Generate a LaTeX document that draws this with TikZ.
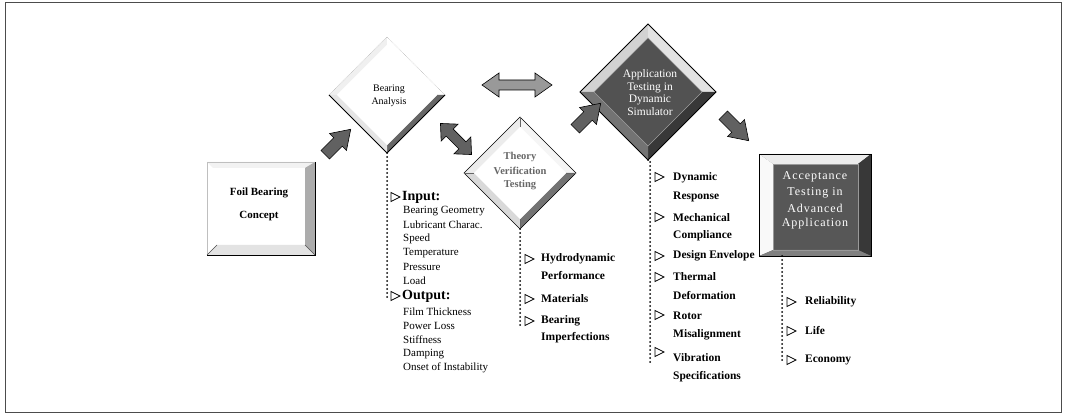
\documentclass[tikz,border=0pt]{standalone}
\usepackage{fontspec}
\setmainfont{Liberation Serif}
\newfontfamily\spaced[LetterSpace=8]{Liberation Serif}
\newcommand\mybevdiam[9]{%
 \fill[#5] ({#1-#3},#2) -- (#1,{#2-#3}) -- (#1,{#2-#4}) -- ({#1-#4},#2) -- cycle;
 \fill[#6] (#1,{#2-#3}) -- ({#1+#3},#2) -- ({#1+#4},#2) -- (#1,{#2-#4}) -- cycle;
 \fill[#7] ({#1+#3},#2) -- (#1,{#2+#3}) -- (#1,{#2+#4}) -- ({#1+#4},#2) -- cycle;
 \fill[#8] (#1,{#2+#3}) -- ({#1-#3},#2) -- ({#1-#4},#2) -- (#1,{#2+#4}) -- cycle;
 \fill[#9] ({#1-#4},#2) -- (#1,{#2-#4}) -- ({#1+#4},#2) -- (#1,{#2+#4}) -- cycle;
}
\newcommand\mymark[2]{\draw[line width=0.7pt,fill=white] (#1,{#2-4.5}) -- ({#1+9},#2) -- (#1,{#2+4.5}) -- cycle;}
\begin{document}
\begin{tikzpicture}[x=1pt,y=-1pt,
  arrowfill/.style={fill=black!62, draw=black, line width=0.6pt},
  dotline/.style={line width=2pt, dash pattern=on 0pt off 4pt, line cap=round},
  item/.style={anchor=west, inner sep=0pt, font=\fontsize{11}{13}\selectfont},
  bitem/.style={anchor=west, inner sep=0pt, font=\fontsize{11.5}{13}\selectfont\bfseries},
  head/.style={anchor=west, inner sep=0pt, font=\fontsize{14}{16}\selectfont\bfseries},
  dtext/.style={inner sep=0pt, font=\fontsize{10}{12}\selectfont},
  wtext/.style={inner sep=0pt, text=white, font=\fontsize{11.5}{13}\selectfont},
  sarrow/.pic={\filldraw[arrowfill] (-18,-6) -- (0,-6) -- (0,-12) -- (18,0) -- (0,12) -- (0,6) -- (-18,6) -- cycle;},
  darrow/.pic={\filldraw[arrowfill] (-22,0) -- (-9,-12) -- (-9,-5) -- (9,-5) -- (9,-12) -- (22,0) -- (9,12) -- (9,5) -- (-9,5) -- (-9,12) -- cycle;},
  harrow/.pic={\filldraw[fill=black!40, draw=black, line width=0.6pt] (-35,0) -- (-18,-12) -- (-18,-5) -- (18,-5) -- (18,-12) -- (35,0) -- (18,12) -- (18,5) -- (-18,5) -- (-18,12) -- cycle;}
]
\useasboundingbox (0,0) rectangle (1066,419);
\fill[white] (0,0) rectangle (1066,419);
\draw[line width=1pt, black!70] (5,3) rectangle (1061,413);

% ---------- Foil Bearing Concept (bevelled square)
\fill[white] (207,162) rectangle (315,255);
\fill[gray!10] (207,162) -- (315,162) -- (305,168) -- (213,168) -- cycle;
\fill[gray!65] (315,162) -- (315,255) -- (305,245) -- (305,168) -- cycle;
\fill[gray!22] (207,255) -- (315,255) -- (305,245) -- (217,245) -- cycle;
\draw[gray!50, line width=0.5pt] (207,255) -- (207,162) -- (315,162);
\draw[black, line width=0.8pt] (207,255) -- (315,255) -- (315,162);
\draw[black!70, line width=0.4pt] (207,255) -- (217,245) (315,255) -- (305,245);
\node[dtext, font=\fontsize{11}{13}\selectfont\bfseries] (foil1) at (259,193) {Foil Bearing};
\node[dtext, font=\fontsize{11}{13}\selectfont\bfseries] (foil2) at (259,216) {Concept};

% ---------- Bearing Analysis diamond
\mybevdiam{387}{95}{58}{50}{gray!12}{white}{black!60}{gray!20}{white}
\draw[gray!60, line width=0.5pt, densely dotted] (329,95) -- (387,37) -- (445,95);
\draw[black, line width=0.8pt] (329,95) -- (387,153) -- (445,95);
\coordinate (ba-s) at (387,153);
\node[dtext] (ba1) at (389,89) {Bearing};
\node[dtext] (ba2) at (389,102) {Analysis};

% ---------- Theory Verification Testing diamond
\mybevdiam{520}{173}{56}{46}{gray!15}{gray!8}{black!55}{gray!30}{white}
\draw[black, line width=0.6pt] (464,173) -- (520,117) -- (576,173) -- (520,229) -- cycle;
\draw[black!60, line width=0.4pt] (520,117) -- (520,127) (464,173) -- (474,173) (576,173) -- (566,173) (520,229) -- (520,219);
\coordinate (tv-s) at (520,229);
\node[dtext, font=\fontsize{10.5}{12}\selectfont\bfseries, text=black!60] (tv1) at (520,157) {Theory};
\node[dtext, font=\fontsize{10.5}{12}\selectfont\bfseries, text=black!60] (tv2) at (520,171) {Verification};
\node[dtext, font=\fontsize{10.5}{12}\selectfont\bfseries, text=black!60] (tv3) at (520,185) {Testing};

% ---------- Application Testing diamond
\mybevdiam{648}{92}{68}{54}{gray!35}{gray!22}{black!78}{black!55}{black!68}
\draw[black, line width=0.8pt] (580,92) -- (648,24) -- (716,92) -- (648,160) -- cycle;
\draw[black!40, line width=0.4pt] (594,92) -- (648,38) -- (702,92) -- (648,146) -- cycle;
\coordinate (ap-s) at (648,160);
\node[wtext] (ap1) at (650,75) {Application};
\node[wtext] (ap2) at (650,88) {Testing in};
\node[wtext] (ap3) at (650,100) {Dynamic};
\node[wtext] (ap4) at (650,112) {Simulator};

% ---------- Acceptance Testing square
\fill[black!66] (759,154) rectangle (871,256);
\fill[gray!15] (759,154) -- (871,154) -- (858,164) -- (773,164) -- cycle;
\fill[gray!5] (759,154) -- (773,164) -- (773,250) -- (759,256) -- cycle;
\fill[black!78] (871,154) -- (858,164) -- (858,250) -- (871,256) -- cycle;
\fill[black!50] (759,256) -- (773,250) -- (858,250) -- (871,256) -- cycle;
\draw[black, line width=0.8pt] (759,154) rectangle (871,256);
\draw[black!40, line width=0.4pt] (773,164) rectangle (858,250);
\coordinate (ac-s) at (782,256);
\node[wtext, font=\fontsize{12}{13}\spaced] (ac1) at (815,177) {Acceptance};
\node[wtext, font=\fontsize{12}{13}\spaced] (ac2) at (815,193) {Testing in};
\node[wtext, font=\fontsize{12}{13}\spaced] (ac3) at (815,208) {Advanced};
\node[wtext, font=\fontsize{12}{13}\spaced] (ac4) at (815,224) {Application};

% ---------- block arrows
\pic[rotate=45] (ar1) at (338,142) {sarrow};
\pic[rotate=-45] (ar2) at (456,139) {darrow};
\pic (ar3) at (517,85) {harrow};
\pic[rotate=45] (ar4) at (588,116) {sarrow};
\pic[rotate=-45] (ar5) at (736,128) {sarrow};

% ---------- Bearing analysis list
\coordinate (ba-e) at (387,300);
\draw[dotline] (ba-s) -- (ba-e);
\mymark{391}{197}
\node[head] (inp) at (402,197) {Input:};
\foreach \t [count=\i] in {Bearing Geometry, Lubricant Charac., Speed, Temperature, Pressure, Load}
  \node[item] (in\i) at (403,{197+13.9*\i}) {\t};
\mymark{391}{296}
\node[head] (outp) at (402,296) {Output:};
\foreach \t [count=\i] in {Film Thickness, Power Loss, Stiffness, Damping, Onset of Instability}
  \node[item] (out\i) at (403,{298+14*\i}) {\t};

% ---------- Theory list
\coordinate (tv-e) at (520,326);
\draw[dotline] (tv-s) -- (tv-e);
\mymark{525}{259}
\node[bitem] (tv-i1) at (541,259) {Hydrodynamic};
\node[bitem] (tv-i2) at (541,276) {Performance};
\mymark{525}{299}
\node[bitem] (tv-i3) at (541,299) {Materials};
\mymark{525}{321}
\node[bitem] (tv-i4) at (541,321) {Bearing};
\node[bitem] (tv-i5) at (541,338) {Imperfections};

% ---------- Application list
\coordinate (ap-e) at (650,362);
\draw[dotline] (ap-s) -- (650,160) -- (ap-e);
\mymark{655}{177}
\node[bitem] (ap-i1) at (673,178) {Dynamic};
\node[bitem] (ap-i2) at (673,197) {Response};
\mymark{655}{217}
\node[bitem] (ap-i3) at (673,218) {Mechanical};
\node[bitem] (ap-i4) at (673,236) {Compliance};
\mymark{655}{256}
\node[bitem] (ap-i5) at (673,256) {Design Envelope};
\mymark{655}{277}
\node[bitem] (ap-i6) at (673,277) {Thermal};
\node[bitem] (ap-i7) at (673,296) {Deformation};
\mymark{655}{315}
\node[bitem] (ap-i8) at (673,316) {Rotor};
\node[bitem] (ap-i9) at (673,335) {Misalignment};
\mymark{655}{352}
\node[bitem] (ap-i10) at (673,358) {Vibration};
\node[bitem] (ap-i11) at (673,377) {Specifications};

% ---------- Acceptance list
\coordinate (ac-e) at (782,362);
\draw[dotline] (ac-s) -- (ac-e);
\mymark{787}{302}
\node[bitem] (ac-i1) at (805,302) {Reliability};
\mymark{787}{331}
\node[bitem] (ac-i2) at (805,331) {Life};
\mymark{787}{360}
\node[bitem] (ac-i3) at (805,360) {Economy};
\end{tikzpicture}
\end{document}
